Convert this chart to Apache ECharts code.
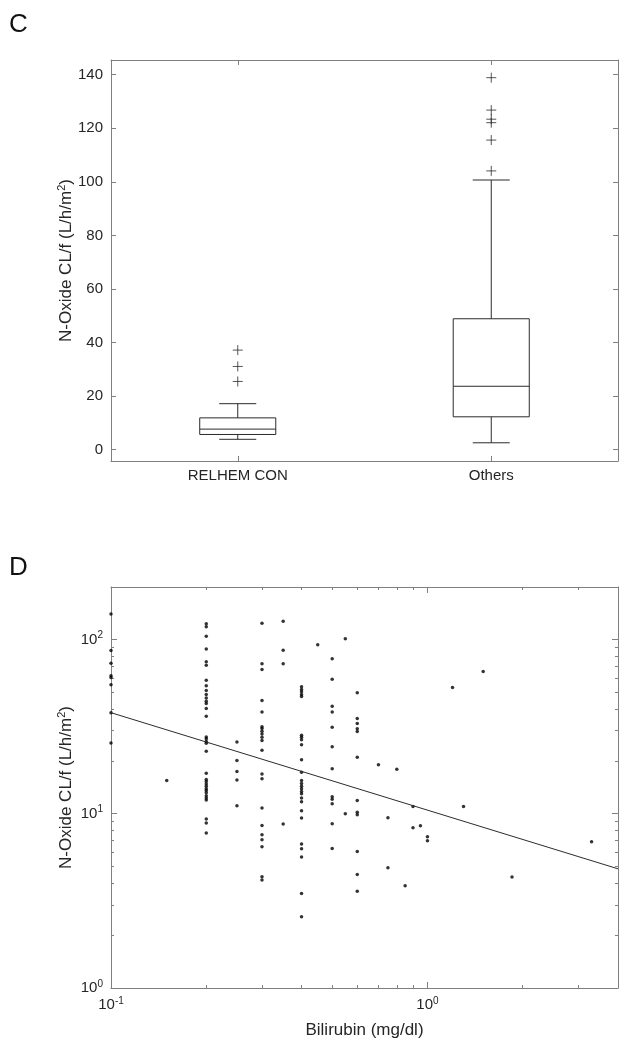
<!DOCTYPE html>
<html><head><meta charset="utf-8">
<script src="https://cdn.jsdelivr.net/npm/echarts@6/dist/echarts.min.js"></script>
<style>html,body{margin:0;padding:0;background:#fff}#c{width:633px;height:1050px}</style>
</head><body><div id="c"></div>
<script>
// ---------- Panel C: box plot ----------
const groups = ['RELHEM CON', 'Others'];
const boxMin = [3.9, 2.6];
const boxQ1 = [5.7, 12.3];
const boxMedian = [7.7, 23.7];
const boxQ3 = [11.9, 48.9];
const boxMax = [17.2, 100.7];
const outliersRelhem = [25.5, 31.1, 37.2];
const outliersOthers = [104.1, 115.6, 122.1, 123.4, 126.8, 138.9];
const yTicksC = [0, 20, 40, 60, 80, 100, 120, 140];

// ---------- Panel D: scatter (log-log) ----------
const bilirubin = [
  0.1,0.1,0.1,0.1,0.1,0.1,0.1,0.1,
  0.15,
  0.2,0.2,0.2,0.2,0.2,0.2,0.2,0.2,0.2,0.2,0.2,0.2,0.2,0.2,0.2,0.2,0.2,0.2,0.2,0.2,0.2,0.2,0.2,0.2,0.2,0.2,0.2,0.2,0.2,0.2,0.2,0.2,0.2,0.2,
  0.25,0.25,0.25,0.25,0.25,
  0.3,0.3,0.3,0.3,0.3,0.3,0.3,0.3,0.3,0.3,0.3,0.3,0.3,0.3,0.3,0.3,0.3,0.3,0.3,0.3,0.3,
  0.35,0.35,0.35,0.35,
  0.4,0.4,0.4,0.4,0.4,0.4,0.4,0.4,0.4,0.4,0.4,0.4,0.4,0.4,0.4,0.4,0.4,0.4,0.4,0.4,0.4,0.4,0.4,0.4,0.4,0.4,
  0.45,
  0.5,0.5,0.5,0.5,0.5,0.5,0.5,0.5,0.5,0.5,0.5,0.5,
  0.55,0.55,
  0.6,0.6,0.6,0.6,0.6,0.6,0.6,0.6,0.6,0.6,0.6,0.6,
  0.7,
  0.75,0.75,
  0.8,
  0.85,
  0.9,0.9,
  0.95,
  1.0,1.0,
  1.2,
  1.3,
  1.5,
  1.85,
  3.3
];
const noxideCL = [
  140,86.5,73,62,60.5,55,38,25.5,
  15.5,
  123,118.3,104.5,88.3,74.4,71.2,58.3,54.2,50.9,48.3,46.2,44.2,42.9,40.1,36.2,27.6,26.9,26.0,25.4,22.8,17.1,15.7,15.3,14.8,14.4,13.9,13.6,13.2,12.7,12.3,12.0,9.33,8.85,7.75,
  25.8,20.2,17.5,15.6,11.1,
  124,72.5,67.2,44.6,38.4,31.6,30.8,29.7,28.7,27.5,26.3,23.1,16.9,15.9,10.8,8.57,7.57,7.09,6.46,4.35,4.16,
  127.4,86.8,72.5,8.73,
  53.5,51.6,50.1,48.3,47.0,28.2,27.5,26.6,24.9,20.4,17.3,15.5,14.9,14.4,13.9,13.4,13.0,12.3,11.7,10.4,9.44,6.70,6.29,5.64,3.48,2.56,
  93.3,
  77.5,59.1,41.4,38.4,31.3,24.2,18.1,12.5,12.1,11.4,8.76,6.32,
  101,10.0,
  49.4,35.2,32.9,30.7,29.6,21.1,11.9,10.2,9.87,6.07,4.48,3.59,
  19.1,
  9.48,4.89,
  18.0,
  3.86,
  11.0,8.31,
  8.53,
  7.38,7.0,
  53.0,
  11.0,
  65.5,
  4.33,
  6.9
];
const fitX = [0.1, 4];
const fitY = [38, 4.83];
const xMajorD = [0.1, 1];
const xMinorD = [0.2,0.3,0.4,0.5,0.6,0.7,0.8,0.9,2,3];
const yMajorD = [1, 10, 100];
const yMinorD = [2,3,4,5,6,7,8,9,20,30,40,50,60,70,80,90];

const FONT = '"Liberation Sans", Arial, Helvetica, sans-serif';
const TXT = '#262626';
const AX = '#7f7f7f';
const LN = '#2b2b2b';
const supRich = { sup: { fontSize: 10, verticalAlign: 'top', lineHeight: 10, fontFamily: FONT, color: TXT } };
const supRichName = { sup: { fontSize: 11, verticalAlign: 'top', lineHeight: 11, fontFamily: FONT, color: TXT } };
const yName = 'N-Oxide CL/f (L/h/m{sup|2})';
const nameStyle = { fontSize: 17, color: TXT, fontFamily: FONT, lineHeight: 20, rich: supRichName };
const logFmt = v => '10{sup|' + Math.round(Math.log10(v)) + '}';

const chart = echarts.init(document.getElementById('c'), null, { renderer: 'canvas' });

function mirrorAxis(base, extra) { return Object.assign({}, base, extra); }

const xC = {
  type: 'category', gridIndex: 0, data: groups,
  axisLine: { show: true, onZero: false, lineStyle: { color: AX, width: 1 } },
  axisTick: { show: true, inside: true, alignWithLabel: true, length: 5, lineStyle: { color: AX } },
  splitLine: { show: false }
};
const yC = {
  type: 'value', gridIndex: 0, min: -4.2, max: 145.5,
  axisLine: { show: true, onZero: false, lineStyle: { color: AX, width: 1 } },
  axisTick: { show: true, inside: true, length: 5, customValues: yTicksC, lineStyle: { color: AX } },
  splitLine: { show: false }
};
const xD = {
  type: 'log', gridIndex: 1, min: 0.1, max: 4, logBase: 10,
  axisLine: { show: true, onZero: false, lineStyle: { color: AX, width: 1 } },
  axisTick: { show: true, inside: true, length: 6, customValues: xMajorD, lineStyle: { color: AX } },
  splitLine: { show: false }, minorTick: { show: false }
};
const yD = {
  type: 'log', gridIndex: 1, min: 1, max: 200, logBase: 10,
  axisLine: { show: true, onZero: false, lineStyle: { color: AX, width: 1 } },
  axisTick: { show: true, inside: true, length: 6, customValues: yMajorD, lineStyle: { color: AX } },
  splitLine: { show: false }, minorTick: { show: false }
};
const minorTick = vals => ({ show: true, inside: true, length: 3, customValues: vals, lineStyle: { color: AX } });

const option = {
  animation: false,
  backgroundColor: '#fff',
  title: [
    { text: 'C', left: 9, top: 12, padding: 0, textStyle: { fontSize: 26, fontWeight: 'normal', color: '#111', fontFamily: FONT } },
    { text: 'D', left: 9, top: 555, padding: 0, textStyle: { fontSize: 26, fontWeight: 'normal', color: '#111', fontFamily: FONT } }
  ],
  grid: [
    { left: 111, top: 60, width: 507, height: 401, containLabel: false },
    { left: 111, top: 587, width: 507, height: 401, containLabel: false }
  ],
  xAxis: [
    mirrorAxis(xC, { position: 'bottom', axisLabel: { show: true, margin: 7, fontSize: 15, color: TXT, fontFamily: FONT } }),
    mirrorAxis(xC, { position: 'top', axisLabel: { show: false } }),
    mirrorAxis(xD, { position: 'bottom', name: 'Bilirubin (mg/dl)', nameLocation: 'middle', nameGap: 32, nameMoveOverlap: false,
      nameTextStyle: nameStyle,
      axisLabel: { show: true, margin: 8, fontSize: 15, color: TXT, fontFamily: FONT, lineHeight: 18, customValues: xMajorD, formatter: logFmt, rich: supRich } }),
    mirrorAxis(xD, { position: 'top', axisLabel: { show: false } }),
    mirrorAxis(xD, { position: 'bottom', axisLine: { show: false }, axisLabel: { show: false }, axisTick: minorTick(xMinorD) }),
    mirrorAxis(xD, { position: 'top', axisLine: { show: false }, axisLabel: { show: false }, axisTick: minorTick(xMinorD) })
  ],
  yAxis: [
    mirrorAxis(yC, { position: 'left', name: yName, nameLocation: 'middle', nameGap: 35, nameMoveOverlap: false, nameTextStyle: nameStyle,
      axisLabel: { show: true, margin: 8, fontSize: 15, color: TXT, fontFamily: FONT, customValues: yTicksC } }),
    mirrorAxis(yC, { position: 'right', axisLabel: { show: false } }),
    mirrorAxis(yD, { position: 'left', name: yName, nameLocation: 'middle', nameGap: 35, nameMoveOverlap: false, nameTextStyle: nameStyle,
      axisLabel: { show: true, margin: 8, fontSize: 15, color: TXT, fontFamily: FONT, lineHeight: 18, customValues: yMajorD, formatter: logFmt, rich: supRich } }),
    mirrorAxis(yD, { position: 'right', axisLabel: { show: false } }),
    mirrorAxis(yD, { position: 'left', axisLine: { show: false }, axisLabel: { show: false }, axisTick: minorTick(yMinorD) }),
    mirrorAxis(yD, { position: 'right', axisLine: { show: false }, axisLabel: { show: false }, axisTick: minorTick(yMinorD) })
  ],
  series: [
    {
      type: 'custom', xAxisIndex: 0, yAxisIndex: 0, silent: true,
      data: groups.map((g, i) => [i, boxMin[i], boxQ1[i], boxMedian[i], boxQ3[i], boxMax[i]]),
      encode: { x: 0, y: [1, 2, 3, 4, 5] },
      renderItem: function (params, api) {
        const i = api.value(0);
        const band = api.size([1, 0])[0];
        const bw = band * 0.3, cw = band * 0.146;
        const pMin = api.coord([i, api.value(1)]);
        const pQ1 = api.coord([i, api.value(2)]);
        const pMed = api.coord([i, api.value(3)]);
        const pQ3 = api.coord([i, api.value(4)]);
        const pMax = api.coord([i, api.value(5)]);
        const x = pMed[0];
        const st = { stroke: LN, lineWidth: 1, fill: null };
        const ln = (x1, y1, x2, y2) => ({ type: 'line', shape: { x1, y1, x2, y2 }, style: st });
        return { type: 'group', children: [
          { type: 'rect', shape: { x: x - bw / 2, y: pQ3[1], width: bw, height: pQ1[1] - pQ3[1] }, style: st },
          ln(x - bw / 2, pMed[1], x + bw / 2, pMed[1]),
          ln(x, pQ3[1], x, pMax[1]),
          ln(x, pQ1[1], x, pMin[1]),
          ln(x - cw / 2, pMax[1], x + cw / 2, pMax[1]),
          ln(x - cw / 2, pMin[1], x + cw / 2, pMin[1])
        ] };
      }
    },
    {
      type: 'scatter', xAxisIndex: 0, yAxisIndex: 0, silent: true,
      symbol: 'path://M0,5L10,5M5,0L5,10', symbolSize: 10,
      itemStyle: { color: 'transparent', borderColor: LN, borderWidth: 1 },
      data: outliersRelhem.map(v => [groups[0], v]).concat(outliersOthers.map(v => [groups[1], v]))
    },
    {
      type: 'scatter', xAxisIndex: 2, yAxisIndex: 2, silent: true,
      symbol: 'circle', symbolSize: 3.5,
      itemStyle: { color: '#000' },
      data: bilirubin.map((b, i) => [b, noxideCL[i]])
    },
    {
      type: 'line', xAxisIndex: 2, yAxisIndex: 2, silent: true,
      symbol: 'none', lineStyle: { color: LN, width: 1 },
      data: fitX.map((b, i) => [b, fitY[i]])
    }
  ]
};
chart.setOption(option);
</script>
</body></html>
